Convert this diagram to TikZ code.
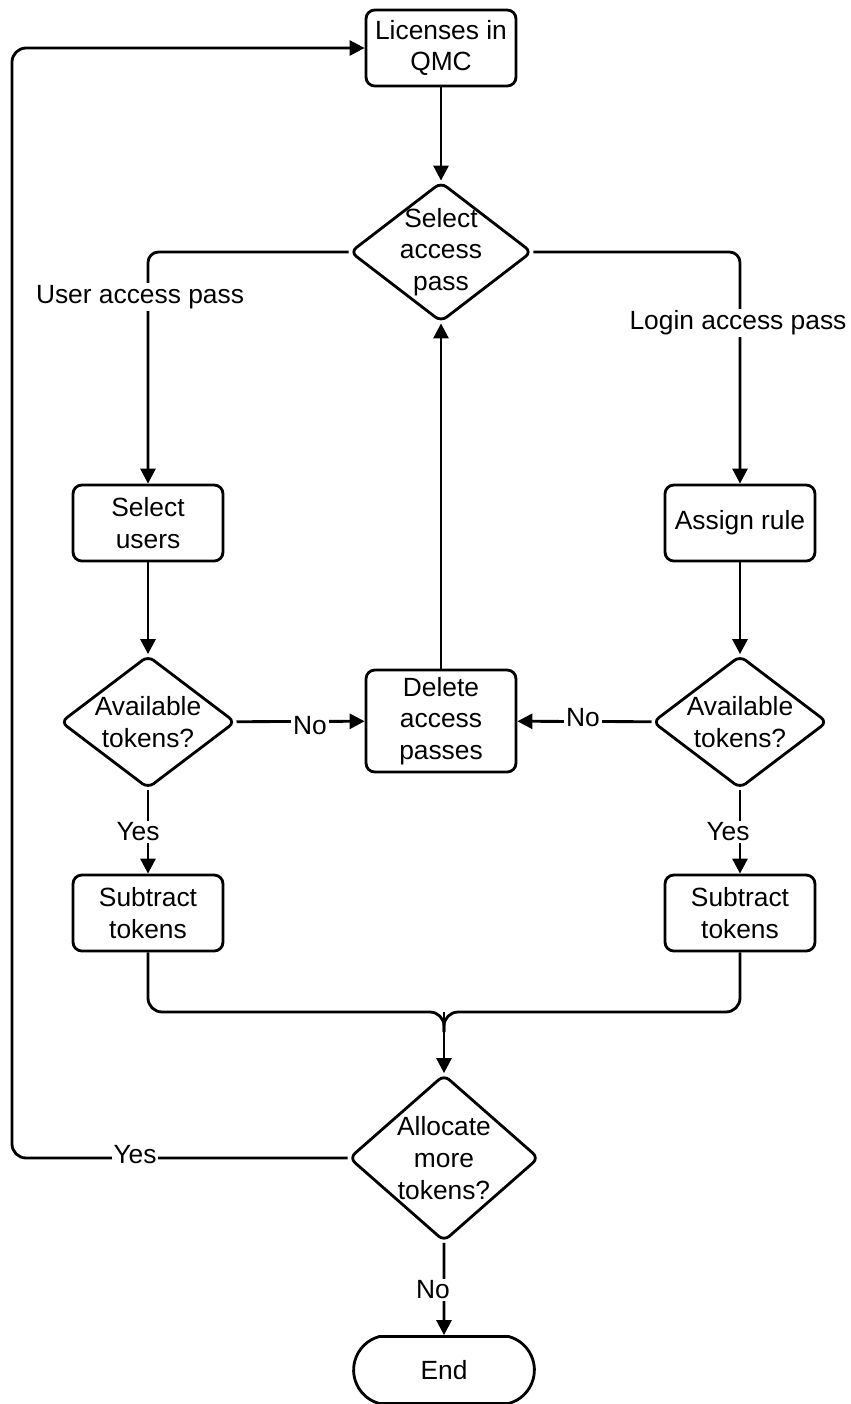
\documentclass[tikz,border=0pt]{standalone}
\usepackage{fontspec}
\setmainfont{Liberation Sans}
\usetikzlibrary{shapes.geometric,shapes.misc,arrows.meta}
\begin{document}
\begin{tikzpicture}[x=0.02cm,y=-0.02cm,
  line width=1.6pt,
  every node/.style={font=\fontsize{15}{18}\selectfont, align=center},
  proc/.style={draw, rounded corners=5pt, minimum width=3cm, minimum height=1.52cm, inner sep=2pt},
  dia/.style={draw, diamond, rounded corners=4pt, inner sep=0pt},
  arr/.style={-{Triangle[length=8.5pt,width=8.5pt]}},
  lbl/.style={fill=white, inner sep=1pt},
  term/.style={draw, rounded rectangle, rounded rectangle arc length=150, minimum width=3.85cm, minimum height=1.34cm}
]
\useasboundingbox (0,0) rectangle (850,1404);

% nodes
\node[proc] (lic) at (441,48) {Licenses in\\QMC};
\node[dia, minimum width=3.64cm, minimum height=2.8cm] (sel) at (441,252) {};
\node (selt) at (sel) {Select\\access\\pass};
\node[proc] (su) at (148,523) {Select\\users};
\node[proc] (ar) at (740,523) {Assign rule};
\node[dia, minimum width=3.5cm, minimum height=2.66cm] (av1) at (148,722) {};
\node (av1t) at (av1) {Available\\tokens?};
\node[dia, minimum width=3.5cm, minimum height=2.66cm] (av2) at (740,722) {};
\node (av2t) at (av2) {Available\\tokens?};
\node[proc, minimum height=2.04cm] (del) at (441,721) {Delete\\access\\passes};
\node[proc] (st1) at (148,913) {Subtract\\tokens};
\node[proc] (st2) at (740,913) {Subtract\\tokens};
\node[dia, minimum width=3.8cm, minimum height=3.34cm] (al) at (444,1158) {};
\node (alt) at (al) {Allocate\\more\\tokens?};
\node[term] (end) at (444,1370) {End};

\coordinate (m) at (444,1012);
\coordinate (lt) at (12,48);

% connectors
\draw[arr] (lic) -- (sel);
\draw[arr, rounded corners=6pt] (sel.west) -| (su.north);
\draw[arr, rounded corners=6pt] (sel.east) -| (ar.north);
\draw[arr] (su) -- (av1);
\draw[arr] (ar) -- (av2);
\draw[arr] (av1) -- (st1);
\draw[arr] (av2) -- (st2);
\draw[arr] (av1) -- (del);
\draw[arr] (av2) -- (del);
\draw[arr] (del) -- (sel);
\draw[rounded corners=8pt] (st1.south) |- (m) -- ++(0,20);
\draw[rounded corners=8pt] (st2.south) |- (m) -- ++(0,20);
\draw[arr] (m) -- (al.north);
\draw[arr, rounded corners=8pt] (al.west) -| (lt) -- (lic.west);
\draw[arr] (al) -- (end);

% labels
\node[lbl] (lu) at (140,297) {User access pass};
\node[lbl] (ll) at (738,323) {Login access pass};
\node[lbl] (y1) at (138,832) {Yes};
\node[lbl] (y2) at (728,832) {Yes};
\node[lbl] (n1) at (310,726) {No};
\node[lbl] (n2) at (583,718) {No};
\node[lbl] (y3) at (135,1155) {Yes};
\node[lbl] (n3) at (433,1290) {No};
\end{tikzpicture}
\end{document}
